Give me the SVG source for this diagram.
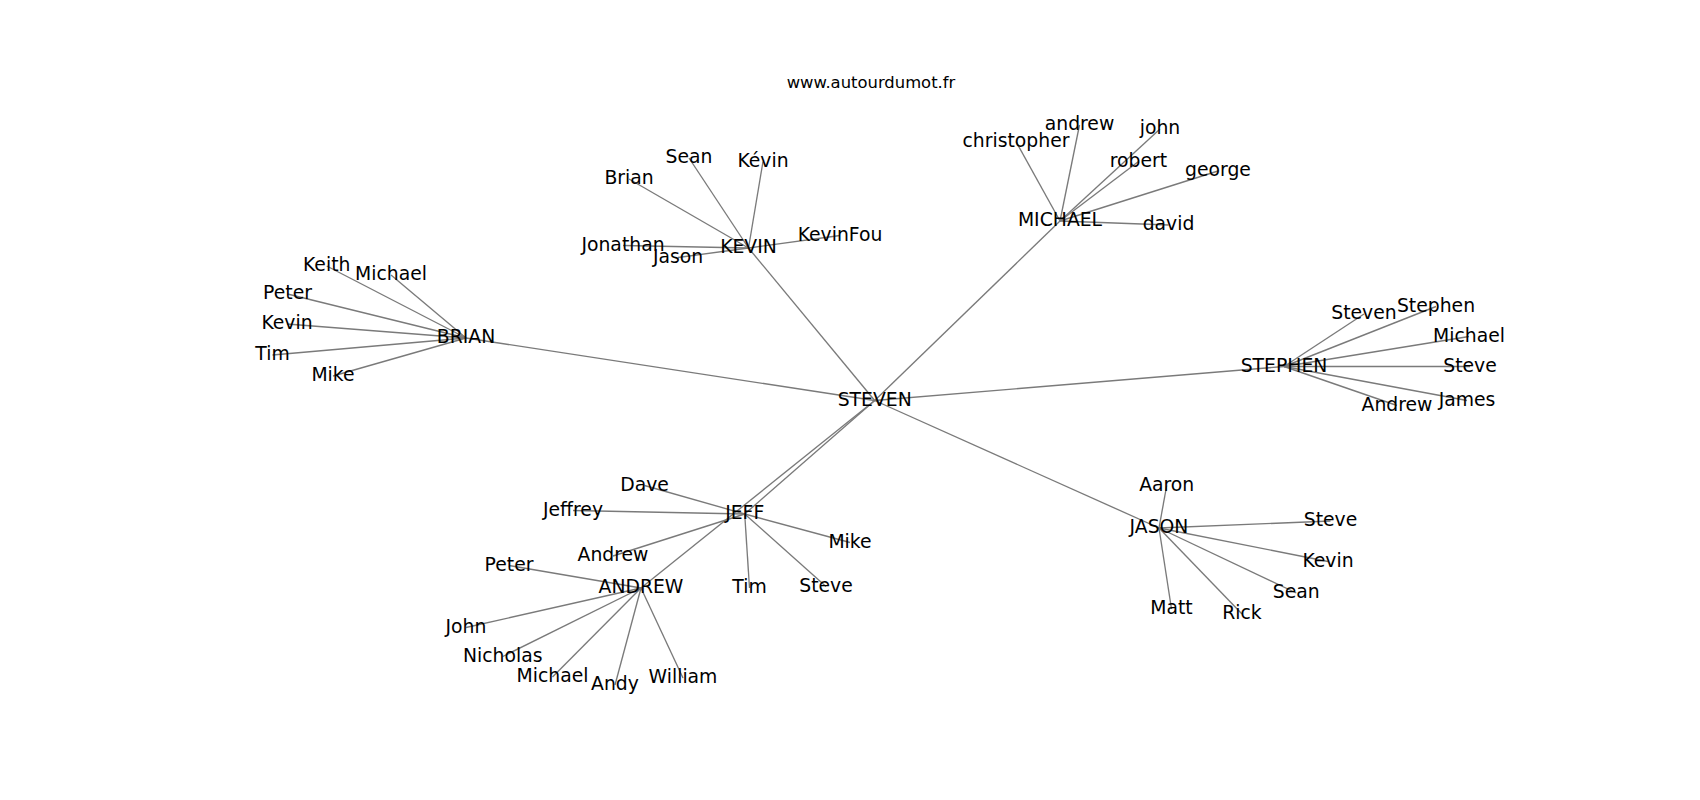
<svg xmlns="http://www.w3.org/2000/svg" width="1700" height="800" viewBox="0 0 1700 800">
<style>
text{font-family:"DejaVu Sans","Liberation Sans",sans-serif;fill:#000;text-anchor:middle}
.n text{font-size:18.8px}
.title{font-size:16.4px}
#edges line{stroke:#7a7a7a;stroke-width:1.35}
</style>
<rect width="1700" height="800" fill="#fff"/>
<text class="title" x="871" y="88">www.autourdumot.fr</text>
<g id="edges">
<line x1="874.7" y1="400.5" x2="466" y2="338"/>
<line x1="874.7" y1="400.5" x2="748.5" y2="248"/>
<line x1="874.7" y1="400.5" x2="1060" y2="221"/>
<line x1="874.7" y1="400.5" x2="1284" y2="366.5"/>
<line x1="874.7" y1="400.5" x2="1159" y2="528"/>
<line x1="874.7" y1="400.5" x2="744.7" y2="514"/>
<line x1="874.7" y1="400.5" x2="641" y2="588"/>
<line x1="466" y1="338" x2="326.7" y2="266"/>
<line x1="466" y1="338" x2="391" y2="275"/>
<line x1="466" y1="338" x2="287.5" y2="294"/>
<line x1="466" y1="338" x2="287" y2="324"/>
<line x1="466" y1="338" x2="272.5" y2="355"/>
<line x1="466" y1="338" x2="333" y2="376"/>
<line x1="748.5" y1="248" x2="689" y2="158"/>
<line x1="748.5" y1="248" x2="763" y2="161.5"/>
<line x1="748.5" y1="248" x2="629" y2="179"/>
<line x1="748.5" y1="248" x2="623" y2="245.5"/>
<line x1="748.5" y1="248" x2="678" y2="257.5"/>
<line x1="748.5" y1="248" x2="840" y2="235.5"/>
<line x1="1060" y1="221" x2="1079.5" y2="125"/>
<line x1="1060" y1="221" x2="1016" y2="141.5"/>
<line x1="1060" y1="221" x2="1160" y2="129"/>
<line x1="1060" y1="221" x2="1138.5" y2="161.5"/>
<line x1="1060" y1="221" x2="1218" y2="171"/>
<line x1="1060" y1="221" x2="1168.5" y2="225"/>
<line x1="1284" y1="366.5" x2="1364" y2="314"/>
<line x1="1284" y1="366.5" x2="1436" y2="306.5"/>
<line x1="1284" y1="366.5" x2="1469" y2="336.5"/>
<line x1="1284" y1="366.5" x2="1470" y2="366.5"/>
<line x1="1284" y1="366.5" x2="1467" y2="400.5"/>
<line x1="1284" y1="366.5" x2="1397" y2="405.5"/>
<line x1="744.7" y1="514" x2="644.5" y2="485.5"/>
<line x1="744.7" y1="514" x2="573" y2="510.5"/>
<line x1="744.7" y1="514" x2="613" y2="556"/>
<line x1="744.7" y1="514" x2="850" y2="542.5"/>
<line x1="744.7" y1="514" x2="749.5" y2="588"/>
<line x1="744.7" y1="514" x2="826" y2="586.5"/>
<line x1="641" y1="588" x2="509" y2="565.5"/>
<line x1="641" y1="588" x2="466" y2="627.5"/>
<line x1="641" y1="588" x2="502.7" y2="656.5"/>
<line x1="641" y1="588" x2="552.5" y2="677"/>
<line x1="641" y1="588" x2="615" y2="685"/>
<line x1="641" y1="588" x2="683" y2="678"/>
<line x1="1159" y1="528" x2="1166.7" y2="485.5"/>
<line x1="1159" y1="528" x2="1330.5" y2="521"/>
<line x1="1159" y1="528" x2="1328" y2="561.5"/>
<line x1="1159" y1="528" x2="1296.3" y2="593"/>
<line x1="1159" y1="528" x2="1171.5" y2="609"/>
<line x1="1159" y1="528" x2="1242" y2="614"/>
</g>
<g class="n">
<g id="n-steven"><text x="874.7" y="405.7">STEVEN</text></g>
<g id="n-brian"><text x="466" y="343">BRIAN</text></g>
<g id="n-kevin"><text x="748.5" y="253.3">KEVIN</text></g>
<g id="n-michael"><text x="1060" y="226">MICHAEL</text></g>
<g id="n-stephen"><text x="1284" y="371.7">STEPHEN</text></g>
<g id="n-jeff"><text x="744.7" y="519">JEFF</text></g>
<g id="n-andrew"><text x="641" y="593.3">ANDREW</text></g>
<g id="n-jason"><text x="1159" y="533.3">JASON</text></g>
<g id="n-brian-keith"><text x="326.7" y="271">Keith</text></g>
<g id="n-brian-michael"><text x="391" y="280">Michael</text></g>
<g id="n-brian-peter"><text x="287.5" y="299">Peter</text></g>
<g id="n-brian-kevin"><text x="287" y="329">Kevin</text></g>
<g id="n-brian-tim"><text x="272.5" y="360">Tim</text></g>
<g id="n-brian-mike"><text x="333" y="381">Mike</text></g>
<g id="n-kevin-sean"><text x="689" y="163.3">Sean</text></g>
<g id="n-kevin-kevin"><text x="763" y="166.7">Kévin</text></g>
<g id="n-kevin-brian"><text x="629" y="184">Brian</text></g>
<g id="n-kevin-jonathan"><text x="623" y="250.7">Jonathan</text></g>
<g id="n-kevin-jason"><text x="678" y="262.7">Jason</text></g>
<g id="n-kevin-kevinfou"><text x="840" y="240.7">KevinFou</text></g>
<g id="n-michael-andrew"><text x="1079.5" y="130">andrew</text></g>
<g id="n-michael-christopher"><text x="1016" y="146.7">christopher</text></g>
<g id="n-michael-john"><text x="1160" y="134.3">john</text></g>
<g id="n-michael-robert"><text x="1138.5" y="166.7">robert</text></g>
<g id="n-michael-george"><text x="1218" y="176">george</text></g>
<g id="n-michael-david"><text x="1168.5" y="230">david</text></g>
<g id="n-stephen-steven"><text x="1364" y="319">Steven</text></g>
<g id="n-stephen-stephen"><text x="1436" y="311.7">Stephen</text></g>
<g id="n-stephen-michael"><text x="1469" y="341.7">Michael</text></g>
<g id="n-stephen-steve"><text x="1470" y="371.7">Steve</text></g>
<g id="n-stephen-james"><text x="1467" y="405.7">James</text></g>
<g id="n-stephen-andrew"><text x="1397" y="410.7">Andrew</text></g>
<g id="n-jeff-dave"><text x="644.5" y="490.7">Dave</text></g>
<g id="n-jeff-jeffrey"><text x="573" y="515.7">Jeffrey</text></g>
<g id="n-jeff-andrew"><text x="613" y="561">Andrew</text></g>
<g id="n-jeff-mike"><text x="850" y="547.7">Mike</text></g>
<g id="n-jeff-tim"><text x="749.5" y="593.3">Tim</text></g>
<g id="n-jeff-steve"><text x="826" y="591.7">Steve</text></g>
<g id="n-andrew-peter"><text x="509" y="570.7">Peter</text></g>
<g id="n-andrew-john"><text x="466" y="632.7">John</text></g>
<g id="n-andrew-nicholas"><text x="502.7" y="661.7">Nicholas</text></g>
<g id="n-andrew-michael"><text x="552.5" y="682.3">Michael</text></g>
<g id="n-andrew-andy"><text x="615" y="690">Andy</text></g>
<g id="n-andrew-william"><text x="683" y="683.3">William</text></g>
<g id="n-jason-aaron"><text x="1166.7" y="490.7">Aaron</text></g>
<g id="n-jason-steve"><text x="1330.5" y="526">Steve</text></g>
<g id="n-jason-kevin"><text x="1328" y="566.7">Kevin</text></g>
<g id="n-jason-sean"><text x="1296.3" y="598.3">Sean</text></g>
<g id="n-jason-matt"><text x="1171.5" y="614">Matt</text></g>
<g id="n-jason-rick"><text x="1242" y="619">Rick</text></g>
</g>
</svg>
